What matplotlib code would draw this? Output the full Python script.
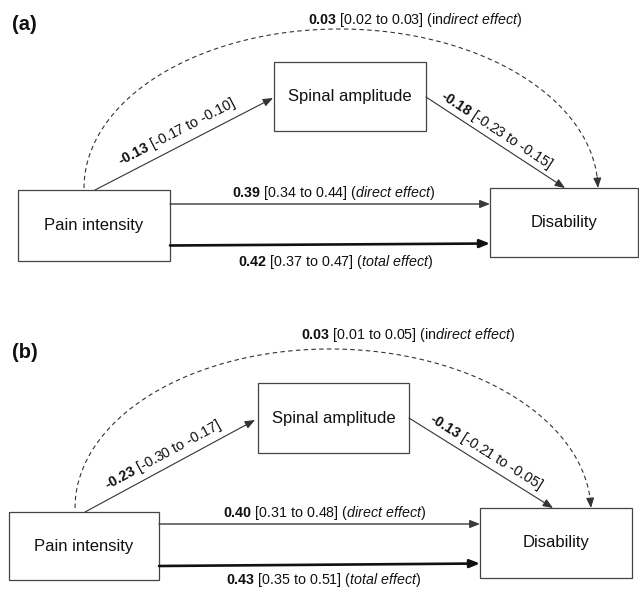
import numpy as np
import matplotlib
matplotlib.use("Agg")
import matplotlib.pyplot as plt
from matplotlib.patches import Rectangle

plt.rcParams['font.family'] = ['Liberation Sans', 'DejaVu Sans']
plt.rcParams['mathtext.fontset'] = 'custom'
plt.rcParams['mathtext.rm'] = 'Liberation Sans'
plt.rcParams['mathtext.bf'] = 'Liberation Sans:bold'
plt.rcParams['mathtext.it'] = 'Liberation Sans:italic'
plt.rcParams['mathtext.default'] = 'regular'

# ---------------- data ----------------
panel_tags = ['(a)', '(b)']
node_labels = ['Pain intensity', 'Spinal amplitude', 'Disability']
a_est = [-0.13, -0.23]
a_lo = [-0.17, -0.30]
a_hi = [-0.10, -0.17]
b_est = [-0.18, -0.13]
b_lo = [-0.23, -0.21]
b_hi = [-0.15, -0.05]
direct_est = [0.39, 0.40]
direct_lo = [0.34, 0.31]
direct_hi = [0.44, 0.48]
total_est = [0.42, 0.43]
total_lo = [0.37, 0.35]
total_hi = [0.47, 0.51]
ind_est = [0.03, 0.03]
ind_lo = [0.02, 0.01]
ind_hi = [0.03, 0.05]

# ---------------- layout (pixel coordinates) ----------------
layout = [
    dict(tag=(12, 25),
         pain=(18, 190, 170, 261), med=(274, 62, 426, 131), dis=(490, 188, 638, 257),
         a_line=((95, 190), (273, 98)), b_line=((426, 97), (565, 188)),
         direct_y=(204, 204), total_y=(245.5, 243.5),
         arc=((84, 190), (598, 188), 28),
         ind_lab=(415, 20), dir_lab=(334, 193), tot_lab=(336, 262),
         a_lab=(177, 132), b_lab=(496, 130)),
    dict(tag=(12, 353),
         pain=(9, 512, 159, 580), med=(258, 383, 409, 453), dis=(480, 508, 632, 578),
         a_line=((85, 512), (255, 420)), b_line=((409, 418), (553, 508)),
         direct_y=(524, 524), total_y=(566, 563.5),
         arc=((75, 512), (591, 508), 347),
         ind_lab=(408, 335), dir_lab=(325, 513), tot_lab=(324, 580),
         a_lab=(163, 455), b_lab=(486, 452)),
]

W, H = 639, 589
fig = plt.figure(figsize=(W / 100, H / 100), dpi=100)
ax = fig.add_axes([0, 0, 1, 1])
ax.set_xlim(0, W)
ax.set_ylim(H, 0)
ax.axis('off')

TXT = '#111111'
LINE = '#333333'
EDGE = '#444444'
FS_NODE = 12
FS_EDGE = 10.3
HY = '\u2010'  # hyphen glyph (avoid long math minus)


def box(rect, label):
    x0, y0, x1, y1 = rect
    ax.add_patch(Rectangle((x0, y0), x1 - x0, y1 - y0, fill=False,
                           ec=EDGE, lw=0.9))
    ax.text((x0 + x1) / 2, (y0 + y1) / 2, label, ha='center', va='center',
            fontsize=FS_NODE, color=TXT)


def arrow(p0, p1, lw=0.8, color=LINE, ls='-'):
    ax.annotate('', xy=p1, xytext=p0,
                arrowprops=dict(arrowstyle='-|>,head_length=0.5,head_width=0.2',
                                color=color, lw=lw, shrinkA=0, shrinkB=0,
                                linestyle=ls, mutation_scale=12))


def angle_of(p0, p1):
    d0 = ax.transData.transform(p0)
    d1 = ax.transData.transform(p1)
    return np.degrees(np.arctan2(d1[1] - d0[1], d1[0] - d0[0]))


def bold(v):
    s = f"{v:.2f}".replace('-', HY)
    return r"$\mathbf{" + s + "}$"


for i, L in enumerate(layout):
    ax.text(L['tag'][0], L['tag'][1], panel_tags[i], ha='left', va='center',
            fontsize=14.5, fontweight='bold', color=TXT)
    box(L['pain'], node_labels[0])
    box(L['med'], node_labels[1])
    box(L['dis'], node_labels[2])

    # a and b paths
    arrow(*L['a_line'])
    arrow(*L['b_line'])

    # direct and total paths
    px1 = L['pain'][2]
    dx0 = L['dis'][0]
    arrow((px1, L['direct_y'][0]), (dx0, L['direct_y'][1]), lw=1.0, color='#3a3a3a')
    arrow((px1, L['total_y'][0]), (dx0, L['total_y'][1]), lw=1.9, color='#111111')

    # indirect dashed arc
    (sx, sy), (ex, ey), peak = L['arc']
    cx = (sx + ex) / 2
    a = (ex - sx) / 2
    t = np.linspace(np.pi, 0, 200)
    base = sy + (ey - sy) * (1 - (np.cos(t) + 1) / 2)
    xs = cx + a * np.cos(t)
    ys = base - (min(sy, ey) - peak) * np.sin(t)
    ax.plot(xs[:-4], ys[:-4], color=LINE, lw=0.8, ls=(0, (4, 3)))
    arrow((xs[-6], ys[-6] - 0.5), (ex, ey), lw=0.8)

    # labels
    ax.text(*L['ind_lab'],
            bold(ind_est[i]) + f" [{ind_lo[i]:.2f} to {ind_hi[i]:.2f}] (in" +
            r"$\mathit{direct\ effect}$)",
            ha='center', va='center', fontsize=FS_EDGE, color=TXT)
    ax.text(*L['dir_lab'],
            bold(direct_est[i]) + f" [{direct_lo[i]:.2f} to {direct_hi[i]:.2f}] (" +
            r"$\mathit{direct\ effect}$)",
            ha='center', va='center', fontsize=FS_EDGE, color=TXT)
    ax.text(*L['tot_lab'],
            bold(total_est[i]) + f" [{total_lo[i]:.2f} to {total_hi[i]:.2f}] (" +
            r"$\mathit{total\ effect}$)",
            ha='center', va='center', fontsize=FS_EDGE, color=TXT)

    ang_a = angle_of(*L['a_line'])
    ax.text(*L['a_lab'],
            bold(a_est[i]) + f" [{a_lo[i]:.2f} to {a_hi[i]:.2f}]",
            ha='center', va='center', rotation=ang_a, rotation_mode='anchor',
            fontsize=FS_EDGE, color=TXT)
    ang_b = angle_of(*L['b_line'])
    ax.text(*L['b_lab'],
            bold(b_est[i]) + f" [{b_lo[i]:.2f} to {b_hi[i]:.2f}]",
            ha='center', va='center', rotation=ang_b, rotation_mode='anchor',
            fontsize=FS_EDGE, color=TXT)

fig.savefig('out.png', dpi=100, facecolor='white')
